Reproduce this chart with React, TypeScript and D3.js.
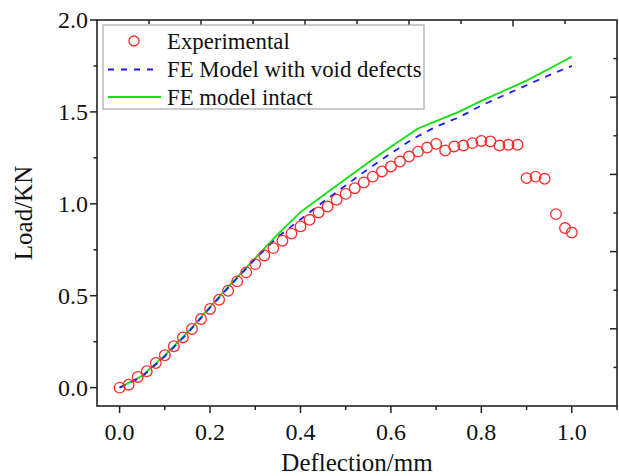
import React from "react";
import * as d3 from "d3";

const expX = [0, 0.02, 0.04, 0.06, 0.08, 0.1, 0.12, 0.14, 0.16, 0.18, 0.2, 0.22, 0.24, 0.26, 0.28, 0.3, 0.32, 0.34, 0.36, 0.38, 0.4, 0.42, 0.44, 0.46, 0.48, 0.5, 0.52, 0.54, 0.56, 0.58, 0.6, 0.62, 0.64, 0.66, 0.68, 0.7, 0.72, 0.74, 0.76, 0.78, 0.8, 0.82, 0.84, 0.86, 0.88, 0.9, 0.92, 0.94, 0.965, 0.985, 1.0];
const expY = [0.0, 0.016, 0.058, 0.089, 0.134, 0.176, 0.225, 0.273, 0.319, 0.373, 0.428, 0.478, 0.527, 0.578, 0.627, 0.672, 0.719, 0.759, 0.799, 0.838, 0.877, 0.913, 0.953, 0.985, 1.022, 1.054, 1.085, 1.116, 1.148, 1.176, 1.203, 1.23, 1.257, 1.284, 1.306, 1.326, 1.29, 1.312, 1.317, 1.33, 1.342, 1.339, 1.317, 1.321, 1.321, 1.14, 1.148, 1.136, 0.944, 0.868, 0.844];

const voidX = [0, 0.05, 0.1, 0.15, 0.2, 0.25, 0.3, 0.35, 0.4, 0.45, 0.5, 0.55, 0.6, 0.65, 0.7, 0.75, 0.8, 0.85, 0.9, 0.95, 1.0];
const voidY = [0, 0.06, 0.17, 0.295, 0.435, 0.57, 0.7, 0.82, 0.915, 1.01, 1.1, 1.19, 1.275, 1.355, 1.42, 1.47, 1.535, 1.59, 1.645, 1.7, 1.75];

const intactX = [0, 0.05, 0.1, 0.15, 0.2, 0.25, 0.3, 0.35, 0.4, 0.45, 0.5, 0.55, 0.6, 0.66, 0.7, 0.75, 0.8, 0.85, 0.9, 0.95, 1.0];
const intactY = [0, 0.065, 0.175, 0.3, 0.44, 0.575, 0.705, 0.835, 0.955, 1.045, 1.135, 1.225, 1.31, 1.41, 1.45, 1.5, 1.56, 1.615, 1.67, 1.735, 1.8];

const xTicks = [0, 0.1, 0.2, 0.3, 0.4, 0.5, 0.6, 0.7, 0.8, 0.9, 1.0, 1.1];
const xTickLabels = ["0.0", "0.2", "0.4", "0.6", "0.8", "1.0"];
const yTicks = [0, 0.25, 0.5, 0.75, 1.0, 1.25, 1.5, 1.75, 2.0];
const yTickLabels = ["0.0", "0.5", "1.0", "1.5", "2.0"];
const auxTicks = [1, 2, 3, 4, 5, 6, 7, 8, 9];

const legendItems = ["Experimental", "FE Model with void defects", "FE model intact"];

const W = 619;
const H = 476;
const L = 97, R = 617, T = 20, B = 406;
const FONT = "'Liberation Serif', 'Times New Roman', serif";

export default function App() {
  const x = d3.scaleLinear().domain([-0.05, 1.1]).range([L, R]);
  const y = d3.scaleLinear().domain([-0.1, 2.0]).range([B, T]);
  const topAux = d3.scaleLinear().domain([0, 10]).range([L, R]);
  const rightAux = d3.scaleLinear().domain([0, 10]).range([T, B]);

  const line = d3
    .line<[number, number]>()
    .x((d) => x(d[0]))
    .y((d) => y(d[1]));

  const voidPath = line(voidX.map((v, i) => [v, voidY[i]]));
  const intactPath = line(intactX.map((v, i) => [v, intactY[i]]));

  const isMajorX = (v: number) => Math.abs(Math.round(v * 10) % 2) === 0 && v <= 1.0001;
  const isMajorY = (v: number) => Math.abs((v * 2) - Math.round(v * 2)) < 1e-6;

  const legendRows = [41, 69.5, 97];

  return (
    <svg
      width={W}
      height={H}
      style={{ position: "absolute", left: 0, top: 0, background: "#fff" }}
      fontFamily={FONT}
    >
      <rect x={0} y={0} width={W} height={H} fill="#fff" />

      {xTicks.map((t) => (
        <line
          key={"bx" + t}
          x1={x(t)}
          x2={x(t)}
          y1={B}
          y2={B + (isMajorX(t) ? 7 : 4)}
          stroke="#222"
          strokeWidth={1.5}
        />
      ))}
      {yTicks.map((t) => (
        <line
          key={"ly" + t}
          x1={L}
          x2={L - (isMajorY(t) ? 7 : 3.5)}
          y1={y(t)}
          y2={y(t)}
          stroke="#222"
          strokeWidth={1.5}
        />
      ))}
      {auxTicks.map((k) => (
        <line
          key={"tx" + k}
          x1={topAux(k)}
          x2={topAux(k)}
          y1={T}
          y2={T + (k % 2 === 0 ? 6.5 : 4)}
          stroke="#222"
          strokeWidth={1.5}
        />
      ))}
      {auxTicks.map((k) => (
        <line
          key={"ry" + k}
          x1={R}
          x2={R - (k % 2 === 0 ? 7 : 3.5)}
          y1={rightAux(k)}
          y2={rightAux(k)}
          stroke="#222"
          strokeWidth={1.5}
        />
      ))}

      <rect x={L} y={T} width={R - L} height={B - T} fill="none" stroke="#222" strokeWidth={1.6} />

      {xTickLabels.map((s) => (
        <text key={"xl" + s} x={x(+s)} y={440} fontSize={24} textAnchor="middle" fill="#111">
          {s}
        </text>
      ))}
      {yTickLabels.map((s) => (
        <text key={"yl" + s} x={88} y={y(+s) + 8} fontSize={24} textAnchor="end" fill="#111">
          {s}
        </text>
      ))}

      <text x={(L + R) / 2} y={471} fontSize={25} textAnchor="middle" fill="#111">
        Deflection/mm
      </text>
      <text
        transform={`translate(32, ${(T + B) / 2}) rotate(-90)`}
        fontSize={25}
        textAnchor="middle"
        fill="#111"
      >
        Load/KN
      </text>

      <path d={intactPath || ""} fill="none" stroke="#10e010" strokeWidth={1.8} />
      <path d={voidPath || ""} fill="none" stroke="#1a1aff" strokeWidth={1.8} strokeDasharray="6.5,6.5" />
      {expX.map((v, i) => (
        <circle
          key={"e" + i}
          cx={x(v)}
          cy={y(expY[i])}
          r={5.3}
          fill="none"
          stroke="#ff2a2a"
          strokeWidth={1.3}
        />
      ))}

      <rect x={103} y={25} width={321} height={84} fill="#fff" stroke="#a8a8a8" strokeWidth={1.2} />
      <circle cx={134} cy={legendRows[0]} r={5} fill="none" stroke="#ff2a2a" strokeWidth={1.3} />
      <line x1={108} x2={156} y1={legendRows[1]} y2={legendRows[1]} stroke="#1a1aff" strokeWidth={1.8} strokeDasharray="6,7" />
      <line x1={108} x2={161} y1={legendRows[2]} y2={legendRows[2]} stroke="#10e010" strokeWidth={1.8} />
      {legendItems.map((s, i) => (
        <text key={s} x={167} y={legendRows[i] + 7.5} fontSize={22.8} fill="#111">
          {s}
        </text>
      ))}
    </svg>
  );
}
